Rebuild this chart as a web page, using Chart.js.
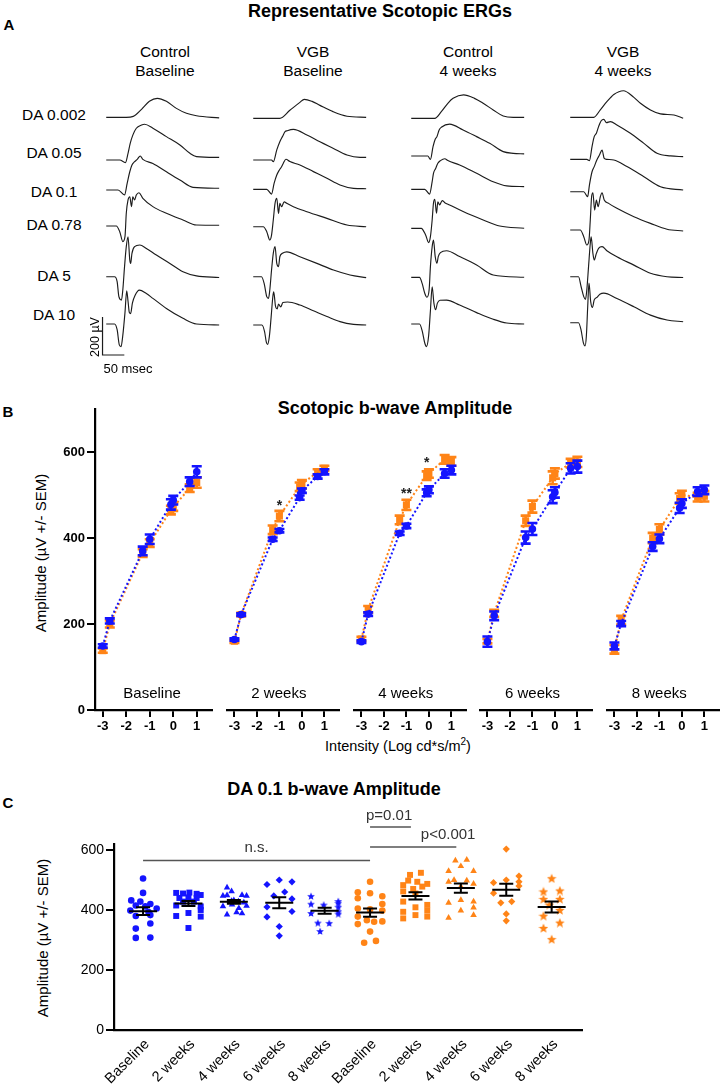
<!DOCTYPE html>
<html><head><meta charset="utf-8">
<script src="https://cdn.jsdelivr.net/npm/chart.js@4.4.1/dist/chart.umd.min.js"></script>
<style>
body{margin:0;background:#fff;}
#page{position:relative;width:727px;height:1086px;overflow:hidden;font-family:"Liberation Sans",Arial,sans-serif;color:#000;background:#fff;}
.t{position:absolute;white-space:nowrap;line-height:1;}
canvas{position:absolute;}
</style></head><body><div id="page"></div>
<script>
// ================= DATA =================
// Panel A: representative scotopic ERG traces, [time ms, amplitude µV]
const aColumns = ['Control|Baseline', 'VGB|Baseline', 'Control|4 weeks', 'VGB|4 weeks'];
const aRows = ['DA 0.002', 'DA 0.05', 'DA 0.1', 'DA 0.78', 'DA 5', 'DA 10'];
const traceCtrlBaseline = [
  [[0,0],[46,0],[62,5],[81,42],[99,84],[117,100],[138,84],[161,47],[184,21],[207,8],[259,-3]],
  [[0,0],[31,0],[44,-14],[50,35],[55,88],[61,131],[69,167],[81,184],[88,188],[107,167],[138,123],[169,79],[192,35],[207,18],[259,14]],
  [[0,0],[27,0],[42,-26],[48,35],[54,96],[59,132],[65,149],[71,161],[78,179],[84,161],[107,140],[138,96],[169,53],[199,14],[259,9]],
  [[0,0],[23,0],[31,-30],[38,-82],[43,-56],[46,67],[50,137],[54,154],[58,102],[61,154],[65,137],[69,163],[75,175],[84,146],[107,102],[138,67],[176,32],[207,5],[259,4]],
  [[0,0],[19,0],[25,-26],[29,-105],[35,-123],[38,-70],[42,53],[46,158],[50,210],[54,88],[56,70],[59,123],[65,158],[77,167],[92,149],[115,114],[146,70],[176,26],[207,4],[259,-4]],
  [[0,0],[19,0],[25,-30],[30,-110],[34,-119],[38,-60],[43,60],[47,175],[50,120],[53,60],[56,55],[60,110],[66,150],[76,178],[92,160],[107,135],[138,82],[176,30],[207,0],[259,-5]]
];
const traceVgbBaseline = [
  [[0,0],[61,0],[84,42],[107,84],[117,100],[135,89],[153,68],[183,35],[215,11],[259,5]],
  [[0,0],[42,0],[46,-9],[54,53],[61,96],[67,123],[73,149],[78,154],[92,161],[123,132],[153,96],[184,61],[215,26],[245,14],[259,14]],
  [[0,0],[31,0],[42,-25],[48,32],[54,75],[60,102],[65,119],[69,137],[75,158],[84,146],[107,128],[138,93],[169,58],[199,23],[230,5],[259,3]],
  [[0,0],[23,0],[31,-26],[38,-70],[42,-44],[46,35],[50,123],[54,149],[58,70],[61,123],[65,105],[71,131],[77,123],[92,105],[123,79],[169,44],[215,9],[259,0]],
  [[0,0],[19,0],[25,-35],[31,-105],[35,-114],[38,-70],[42,35],[46,123],[50,158],[54,70],[58,53],[61,105],[67,123],[77,131],[107,105],[146,70],[184,35],[222,9],[259,-5]],
  [[0,0],[20,0],[26,-35],[30,-90],[33,-102],[37,-60],[41,40],[45,150],[47,174],[51,100],[55,85],[58,110],[63,95],[68,118],[79,121],[107,105],[138,75],[169,45],[199,18],[230,3],[259,0]]
];
const traceCtrl4w = [
  [[0,0],[54,0],[69,35],[84,79],[96,105],[120,123],[145,105],[165,79],[188,44],[211,12],[234,5],[259,5]],
  [[0,0],[38,0],[44,-18],[50,49],[55,88],[59,102],[64,137],[69,151],[88,168],[119,137],[150,102],[180,67],[211,23],[234,14],[259,11]],
  [[0,0],[31,0],[42,-25],[48,40],[51,84],[56,110],[61,137],[67,151],[77,161],[84,151],[111,128],[150,84],[188,40],[219,18],[259,14]],
  [[0,0],[23,0],[33,-35],[40,-75],[44,-44],[48,44],[51,132],[54,153],[58,79],[61,140],[65,123],[71,146],[77,135],[88,123],[119,88],[165,44],[203,12],[259,0]],
  [[0,0],[19,0],[25,-32],[31,-84],[36,-105],[41,-67],[44,56],[48,161],[51,196],[55,109],[59,74],[62,109],[67,130],[81,140],[111,109],[150,65],[188,12],[259,0]],
  [[0,0],[19,0],[25,-35],[31,-100],[35,-119],[40,-60],[44,70],[48,196],[52,110],[56,75],[60,110],[66,125],[81,126],[111,100],[150,60],[188,25],[219,5],[259,0]]
];
const traceVgb4w = [
  [[0,0],[54,0],[69,39],[84,82],[100,120],[122,140],[146,105],[161,74],[184,39],[207,18],[238,12],[259,-5]],
  [[0,0],[38,0],[44,-7],[50,67],[55,119],[60,137],[65,172],[71,203],[77,210],[83,193],[92,198],[107,181],[138,137],[169,84],[199,32],[230,18],[259,14]],
  [[0,0],[31,0],[40,-26],[44,35],[50,105],[55,132],[61,167],[67,193],[73,219],[78,175],[84,170],[100,167],[130,132],[169,79],[207,26],[259,9]],
  [[0,0],[23,0],[31,-35],[38,-79],[43,-53],[46,53],[49,175],[52,196],[56,105],[60,158],[64,123],[69,175],[73,196],[78,158],[88,140],[107,114],[146,70],[184,35],[222,4],[259,-5]],
  [[0,0],[19,0],[25,-53],[31,-105],[35,-119],[38,-70],[42,53],[46,175],[48,210],[52,123],[55,88],[60,123],[65,149],[73,158],[84,137],[107,105],[146,61],[184,18],[222,0],[259,-4]],
  [[0,0],[19,0],[25,-40],[30,-105],[34,-122],[37,-70],[40,80],[43,209],[47,110],[51,80],[55,120],[62,135],[68,150],[77,156],[107,127],[146,84],[184,40],[222,14],[259,5]]
];
const scaleBarUV = 200, scaleBarMs = 50;

// Panel B: scotopic b-wave amplitude (µV), mean and SEM
const intensity = [-3, -2.7, -1.3, -1, -0.1, 0, 0.7, 1];
const intensityTicks = [-3, -2, -1, 0, 1];
const bGroups = ['Baseline', '2 weeks', '4 weeks', '6 weeks', '8 weeks'];
const bControlMean = [
  [149, 207, 370, 397, 478, 488, 531, 554],
  [164, 222, 397, 417, 494, 510, 543, 554],
  [159, 223, 411, 428, 505, 512, 550, 558],
  [159, 219, 401, 421, 496, 506, 562, 566],
  [149, 201, 380, 398, 470, 480, 508, 512]
];
const bControlSem = [
  [4, 6, 10, 11, 12, 10, 10, 13],
  [3, 3, 4, 4, 5, 5, 5, 6],
  [3, 4, 4, 5, 8, 8, 10, 10],
  [12, 10, 14, 14, 15, 12, 12, 14],
  [8, 6, 10, 10, 12, 10, 10, 10]
];
const bVgbMean = [
  [138, 200, 365, 388, 465, 472, 516, 529],
  [160, 222, 419, 451, 519, 525, 554, 562],
  [165, 234, 442, 477, 545, 550, 583, 578],
  [160, 225, 440, 473, 540, 550, 574, 577],
  [141, 209, 400, 420, 492, 500, 495, 497]
];
const bVgbSem = [
  [5, 8, 9, 9, 10, 9, 9, 12],
  [4, 4, 10, 12, 10, 10, 6, 6],
  [5, 8, 10, 12, 10, 10, 10, 10],
  [5, 8, 12, 14, 15, 12, 10, 12],
  [10, 10, 12, 12, 12, 10, 10, 12]
];
const bSignif = [
  {group: 1, x: -1, y: 481, text: '*'},
  {group: 2, x: -1, y: 508, text: '**'},
  {group: 2, x: -0.1, y: 581, text: '*'}
];

// Panel C: DA 0.1 b-wave amplitude, individual eyes (µV)
const cCategories = ['Baseline', '2 weeks', '4 weeks', '6 weeks', '8 weeks', 'Baseline', '2 weeks', '4 weeks', '6 weeks', '8 weeks'];
const cControlDots = [
  [505,457,432,428,420,415,412,405,398,393,380,383,355,338,307,308],
  [457,455,458,454,450,440,442,440,428,428,415,412,400,390,380,378,340],
  [475,462,447,449,450,447,430,428,425,412,418,406,414,385,392,389,432],
  [485,500,494,447,460,437,410,395,377,345,314],
  [447,430,421,418,411,424,390,388,396,358,357,330]
];
const cVgbDots = [
  [494,459,456,446,439,420,405,402,398,378,366,361,362,353,328,291,297],
  [517,524,498,494,487,483,470,478,462,455,428,417,409,398,394,383,378,372],
  [565,567,546,530,530,500,498,494,487,478,424,433,428,398,408,383,374],
  [603,491,500,513,494,456,480,424,428,387,364],
  [506,462,465,437,437,400,418,381,358,340,303]
];
const cControlJitter = [
  [0,0,-0.26,-0.06,0.16,-0.16,0.05,0.3,-0.28,0.12,-0.16,0.16,0.16,-0.16,-0.16,0.16],
  [-0.27,-0.12,0.02,0.18,0.27,-0.2,0,0.18,-0.12,0.12,-0.27,0.27,0.27,0,-0.27,0.27,0],
  [-0.15,-0.05,-0.24,-0.15,0.18,0.28,-0.05,0.1,0.22,-0.24,-0.04,0.11,0.28,-0.15,0.06,0.18,0],
  [-0.27,0,0.28,-0.12,0.12,0.28,-0.27,0.28,-0.27,0,0],
  [-0.3,0.3,-0.3,-0.02,0.3,0.3,-0.3,0.3,0.3,-0.15,0.1,-0.1]
];
const cVgbJitter = [
  [0,-0.27,0,0.27,-0.27,0.27,-0.27,0,0.27,-0.27,-0.07,0.09,0.27,-0.27,0,-0.13,0.13],
  [-0.12,0.12,-0.16,0.04,0.26,-0.27,-0.05,0.15,-0.27,0,-0.27,0.26,0,0.26,-0.27,0,0.26,-0.27],
  [-0.12,0.13,0,-0.27,0.28,-0.15,0.13,-0.27,0.28,0,-0.27,0,0.28,0,0.28,0.28,-0.27],
  [0,-0.28,0,0.28,0.28,-0.28,0.28,-0.12,0.12,0,0],
  [0,-0.18,0.18,-0.18,0.18,0.18,-0.05,-0.18,0.18,-0.18,0]
];
const cBrackets = [
  {from: 0, to: 5, y: 565, label: 'n.s.', lx: 2.5, ly: 608},
  {from: 5, to: 5.9, y: 677, label: 'p=0.01', lx: 5.42, ly: 714},
  {from: 5, to: 6.9, y: 610, label: 'p<0.001', lx: 6.72, ly: 650}
];

// ================= STYLE / LAYOUT =================
const BLUE = '#1414ff', ORANGE = '#ff8417';
const FONT = '"Liberation Sans", Arial, sans-serif';
Chart.defaults.font.family = FONT;
Chart.defaults.color = '#000';
const page = document.getElementById('page');

function addText(txt, x, y, size, opts = {}) {
  const d = document.createElement('div');
  d.className = 't';
  d.innerHTML = txt;
  d.style.fontSize = size + 'px';
  if (opts.bold) d.style.fontWeight = 'bold';
  if (opts.color) d.style.color = opts.color;
  d.style.left = x + 'px';
  d.style.top = y + 'px';
  d.style.transform = 'translate(-50%,-50%)' + (opts.rot ? ' rotate(' + opts.rot + 'deg)' : '');
  page.appendChild(d);
  return d;
}
function makeCanvas(left, top, w, h) {
  const c = document.createElement('canvas');
  c.width = w; c.height = h;
  c.style.left = left + 'px'; c.style.top = top + 'px';
  c.style.width = w + 'px'; c.style.height = h + 'px';
  page.appendChild(c);
  return c;
}
const zeroPad = s => { s.paddingLeft = 0; s.paddingRight = 0; s.paddingTop = 0; s.paddingBottom = 0; };

// ---------- Panel A ----------
addText('A', 9, 24, 15, {bold: true});
addText('Representative Scotopic ERGs', 380, 11, 18, {bold: true});
const A_TOP = 80, A_H = 290, A_W = 120;
const A_PX_PER_UV = 0.19, A_PX_PER_MS = 0.436, A_TMIN = -12;
const A_TMAX = A_TMIN + A_W / A_PX_PER_MS;
const A_COL_START = [106.7, 253.3, 411.7, 570];
const A_HEAD_X = [165, 313, 468, 623];
const A_BASE_PX = [
  [117.3, 160, 190, 226, 276.7, 324],
  [118.3, 160, 189.3, 226.7, 276.7, 325],
  [118.3, 156, 189.3, 228.3, 277.3, 324],
  [117.3, 159.3, 191.7, 230, 276.7, 322.7]
];
const A_LABEL_Y = [115, 153, 192, 225, 276, 315];
aRows.forEach((r, i) => addText(r, 54, A_LABEL_Y[i], 15.5));
aColumns.forEach((c, i) => {
  const [l1, l2] = c.split('|');
  addText(l1, A_HEAD_X[i], 52, 15.5);
  addText(l2, A_HEAD_X[i], 71, 15.5);
});
const aTraces = [traceCtrlBaseline, traceVgbBaseline, traceCtrl4w, traceVgb4w];
aTraces.forEach((col, ci) => {
  const cv = makeCanvas(A_COL_START[ci] + A_TMIN * A_PX_PER_MS, A_TOP, A_W, A_H);
  const datasets = col.map((tr, ri) => {
    const off = (A_TOP + A_H - A_BASE_PX[ci][ri]) / A_PX_PER_UV;
    return {
      data: tr.map(([t, v]) => ({x: t, y: v + off})),
      borderColor: '#1c1c1c', borderWidth: 1.15, pointRadius: 0,
      cubicInterpolationMode: 'monotone', clip: false
    };
  });
  if (ci === 0) {
    const base = (A_TOP + A_H - 355) / A_PX_PER_UV, t0 = -8.5;
    datasets.push({
      data: [{x: t0, y: base + scaleBarUV}, {x: t0, y: base}, {x: t0 + scaleBarMs, y: base}],
      borderColor: '#1c1c1c', borderWidth: 1.2, pointRadius: 0, tension: 0, clip: false
    });
  }
  new Chart(cv, {
    type: 'line',
    data: {datasets},
    options: {
      responsive: false, animation: false, events: [],
      layout: {padding: 0},
      plugins: {legend: {display: false}, tooltip: {enabled: false}},
      scales: {
        x: {type: 'linear', min: A_TMIN, max: A_TMAX, display: false},
        y: {type: 'linear', min: 0, max: A_H / A_PX_PER_UV, display: false}
      }
    }
  });
});
addText('200 µV', 95, 337, 12.5, {rot: -90});
addText('50 msec', 128, 368, 13);

// ---------- Panel B ----------
addText('B', 8, 411, 15, {bold: true});
addText('Scotopic b-wave Amplitude', 395, 408, 18, {bold: true});
addText('Amplitude (µV +/- SEM)', 40, 553, 15, {rot: -90});
addText('Intensity (Log cd*s/m<sup style="font-size:10px">2</sup>)', 398, 745, 14.5);
const B_START = [95, 221.8, 348.6, 475.4, 602.2];
const B_PANEL_W = 122, B_YAXIS_W = 60, B_TOP = 400, B_PADTOP = 9, B_PLOT_H = 301, B_XAXIS_H = 30;
const B_XMIN = -3.33, B_XMAX = B_XMIN + B_PANEL_W / 24.5;

const errorBarPlugin = {
  id: 'errbars',
  beforeDatasetDraw(chart, args) {
    const ds = chart.data.datasets[args.index];
    if (!ds.sem) return;
    const ctx = chart.ctx, ys = chart.scales.y;
    ctx.save();
    ctx.strokeStyle = ds.borderColor; ctx.lineWidth = 2.6;
    args.meta.data.forEach((pt, i) => {
      const v = ds.data[i].y, e = ds.sem[i];
      const yt = ys.getPixelForValue(v + e), yb = ys.getPixelForValue(v - e), x = pt.x;
      ctx.beginPath();
      ctx.moveTo(x, yt); ctx.lineTo(x, yb);
      ctx.moveTo(x - 5, yt); ctx.lineTo(x + 5, yt);
      ctx.moveTo(x - 5, yb); ctx.lineTo(x + 5, yb);
      ctx.stroke();
    });
    ctx.restore();
  }
};
const signifPlugin = {
  id: 'signif',
  afterDatasetsDraw(chart) {
    const g = chart.options.plugins.signif.group;
    const ctx = chart.ctx;
    ctx.save();
    ctx.fillStyle = '#222'; ctx.font = 'bold 14px ' + FONT;
    ctx.textAlign = 'center'; ctx.textBaseline = 'middle';
    bSignif.filter(s => s.group === g).forEach(s => {
      ctx.fillText(s.text, chart.scales.x.getPixelForValue(s.x), chart.scales.y.getPixelForValue(s.y) + 3);
    });
    ctx.restore();
  }
};

bGroups.forEach((gname, g) => {
  const first = g === 0;
  const yw = first ? B_YAXIS_W : 0;
  const cv = makeCanvas(B_START[g] - yw, B_TOP, B_PANEL_W + yw, B_PADTOP + B_PLOT_H + B_XAXIS_H);
  addText(gname, B_START[g] + (-1 - B_XMIN) * 24.5, 692, 15);
  new Chart(cv, {
    type: 'line',
    data: {
      datasets: [
        {data: intensity.map((x, i) => ({x, y: bControlMean[g][i]})), sem: bControlSem[g],
         borderColor: BLUE, backgroundColor: BLUE, borderWidth: 2, borderDash: [2, 2.4],
         pointStyle: 'circle', pointRadius: 3.8, pointBorderWidth: 0, order: 0, tension: 0},
        {data: intensity.map((x, i) => ({x, y: bVgbMean[g][i]})), sem: bVgbSem[g],
         borderColor: ORANGE, backgroundColor: ORANGE, borderWidth: 2, borderDash: [2, 2.4],
         pointStyle: 'rect', pointRadius: 5, pointBorderWidth: 0, order: 1, tension: 0}
      ]
    },
    options: {
      responsive: false, animation: false, events: [],
      layout: {padding: {top: B_PADTOP, left: 0, right: 0, bottom: 0}},
      plugins: {legend: {display: false}, tooltip: {enabled: false}, signif: {group: g}},
      scales: {
        x: {
          type: 'linear', min: B_XMIN, max: B_XMAX,
          afterBuildTicks: s => { s.ticks = intensityTicks.map(v => ({value: v})); },
          afterFit: s => { s.height = B_XAXIS_H; zeroPad(s); },
          ticks: {font: {size: 13, weight: 'bold'}, color: '#000', padding: 2, maxRotation: 0, autoSkip: false,
                  callback: v => String(v)},
          grid: {display: true, drawOnChartArea: false, drawTicks: true, tickLength: 7, color: '#000', lineWidth: 2},
          border: {display: true, color: '#000', width: 2.2}
        },
        y: {
          type: 'linear', min: 0, max: 700, display: first,
          afterBuildTicks: s => { s.ticks = [0, 200, 400, 600].map(v => ({value: v})); },
          afterFit: s => { s.width = yw; zeroPad(s); },
          ticks: {font: {size: 13, weight: 'bold'}, color: '#000', padding: 2},
          grid: {display: true, drawOnChartArea: false, drawTicks: true, tickLength: 8, color: '#000', lineWidth: 2},
          border: {display: true, color: '#000', width: 2.2}
        }
      }
    },
    plugins: [errorBarPlugin, signifPlugin]
  });
});

// ---------- Panel C ----------
addText('C', 8, 802, 15, {bold: true});
addText('DA 0.1 b-wave Amplitude', 334, 789, 18, {bold: true});
addText('Amplitude (µV +/- SEM)', 42, 938, 15, {rot: -90});
const C_LEFT = 114, C_W = 468, C_YAXIS_W = 70, C_TOP = 800, C_PADTOP = 44, C_PLOT_H = 186, C_H = 286;
const C_XMIN = -0.64, C_XMAX = C_XMIN + C_W / 45.4;

function starImage(color, size) {
  const c = document.createElement('canvas');
  c.width = c.height = size;
  const x = c.getContext('2d');
  x.fillStyle = color; x.beginPath();
  const R = size / 2, r = R * 0.45, cx = size / 2, cy = size / 2 + 0.6;
  for (let k = 0; k < 10; k++) {
    const ang = -Math.PI / 2 + k * Math.PI / 5, rr = k % 2 ? r : R;
    x.lineTo(cx + rr * Math.cos(ang), cy + rr * Math.sin(ang));
  }
  x.closePath(); x.fill();
  return c;
}
const cShapes = ['circle', 'rect', 'triangle', 'rectRot', 'star'];
const cRadius = [3.3, 4.2, 3.8, 3.6, 3.5];
const cAllDots = cControlDots.concat(cVgbDots);
const cAllJit = cControlJitter.concat(cVgbJitter);
const cDatasets = cAllDots.map((vals, i) => {
  const color = i < 5 ? BLUE : ORANGE;
  const k = i % 5;
  const style = cShapes[k] === 'star' ? starImage(color, i < 5 ? 8 : 10) : cShapes[k];
  return {
    data: vals.map((v, j) => ({x: i + cAllJit[i][j], y: v})),
    backgroundColor: color, borderColor: color, pointBorderWidth: 0,
    pointStyle: style, pointRadius: cRadius[k], showLine: false
  };
});
const meanSemPlugin = {
  id: 'meansem',
  afterDatasetsDraw(chart) {
    const ctx = chart.ctx, xs = chart.scales.x, ys = chart.scales.y;
    ctx.save();
    ctx.strokeStyle = '#000'; ctx.lineWidth = 2;
    cAllDots.forEach((vals, i) => {
      const n = vals.length, m = vals.reduce((a, b) => a + b, 0) / n;
      const sd = Math.sqrt(vals.reduce((a, b) => a + (b - m) * (b - m), 0) / (n - 1));
      const sem = sd / Math.sqrt(n);
      const x = xs.getPixelForValue(i), ym = ys.getPixelForValue(m);
      const yt = ys.getPixelForValue(m + sem), yb = ys.getPixelForValue(m - sem);
      ctx.beginPath();
      ctx.moveTo(x - 14, ym); ctx.lineTo(x + 14, ym);
      ctx.moveTo(x, yt); ctx.lineTo(x, yb);
      ctx.moveTo(x - 7, yt); ctx.lineTo(x + 7, yt);
      ctx.moveTo(x - 7, yb); ctx.lineTo(x + 7, yb);
      ctx.stroke();
    });
    ctx.restore();
  },
  afterDraw(chart) {
    const ctx = chart.ctx, xs = chart.scales.x, ys = chart.scales.y;
    ctx.save();
    ctx.strokeStyle = '#555'; ctx.lineWidth = 1.5;
    ctx.fillStyle = '#333'; ctx.font = '15px ' + FONT;
    ctx.textAlign = 'center'; ctx.textBaseline = 'middle';
    cBrackets.forEach(b => {
      const y = ys.getPixelForValue(b.y);
      ctx.beginPath();
      ctx.moveTo(xs.getPixelForValue(b.from), y); ctx.lineTo(xs.getPixelForValue(b.to), y);
      ctx.stroke();
      ctx.fillText(b.label, xs.getPixelForValue(b.lx), ys.getPixelForValue(b.ly));
    });
    // rotated category labels under the axis
    ctx.fillStyle = '#000'; ctx.font = '14.5px ' + FONT;
    ctx.textAlign = 'right'; ctx.textBaseline = 'middle';
    cCategories.forEach((c, i) => {
      ctx.save();
      ctx.translate(xs.getPixelForValue(i) + 4, ys.getPixelForValue(0) + 12);
      ctx.rotate(-Math.PI / 4);
      ctx.fillText(c, 0, 0);
      ctx.restore();
    });
    ctx.restore();
  }
};
new Chart(makeCanvas(C_LEFT - C_YAXIS_W, C_TOP, C_YAXIS_W + C_W + 10, C_H), {
  type: 'scatter',
  data: {datasets: cDatasets},
  options: {
    responsive: false, animation: false, events: [],
    layout: {padding: {top: C_PADTOP, left: 0, right: 10, bottom: 0}},
    plugins: {legend: {display: false}, tooltip: {enabled: false}},
    scales: {
      x: {
        type: 'linear', min: C_XMIN, max: C_XMAX,
        afterBuildTicks: s => { s.ticks = cCategories.map((_, i) => ({value: i})); },
        afterFit: s => { s.height = C_H - C_PADTOP - C_PLOT_H; zeroPad(s); },
        ticks: {display: false},
        grid: {display: false},
        border: {display: true, color: '#000', width: 2.2}
      },
      y: {
        type: 'linear', min: 0, max: 620,
        afterBuildTicks: s => { s.ticks = [0, 200, 400, 600].map(v => ({value: v})); },
        afterFit: s => { s.width = C_YAXIS_W; zeroPad(s); },
        ticks: {font: {size: 14}, color: '#000', padding: 2},
        grid: {display: true, drawOnChartArea: false, drawTicks: true, tickLength: 8, color: '#000', lineWidth: 2},
        border: {display: true, color: '#000', width: 2.2}
      }
    }
  },
  plugins: [meanSemPlugin]
});
</script></body></html>
